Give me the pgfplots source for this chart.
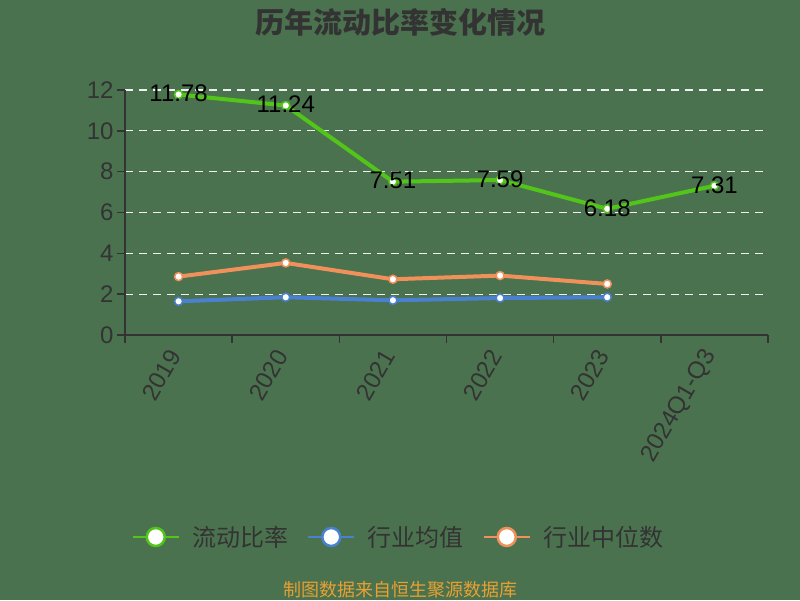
\documentclass[border=0pt]{standalone}
\usepackage{pgfplots}
\pgfplotsset{compat=1.18}
\usepackage{fontspec}
\setmainfont{Liberation Sans}
\newfontfamily\cjk{Noto Sans CJK SC}
\definecolor{bg}{RGB}{75,114,79}
\definecolor{grn}{RGB}{82,196,26}
\definecolor{blu}{RGB}{74,128,208}
\definecolor{org}{RGB}{240,144,90}
\definecolor{txt}{RGB}{51,51,51}
\definecolor{foot}{RGB}{232,160,50}
\begin{document}
\begin{tikzpicture}[x=1pt,y=1pt]
\fill[bg] (0,0) rectangle (800,600);
\path[use as bounding box] (0,0) rectangle (800,600);
\node[font=\cjk\bfseries\fontsize{29}{32}\selectfont, text=txt] at (400,578) {历年流动比率变化情况};
\node[font=\cjk\fontsize{18}{20}\selectfont, text=foot] at (400,10) {制图数据来自恒生聚源数据库};
\begin{axis}[
  at={(125pt,265pt)}, anchor=south west,
  scale only axis, width=643pt, height=245pt,
  xmin=-0.5, xmax=5.5, ymin=0, ymax=12,
  clip=false,
  axis x line*=bottom, axis y line*=left,
  axis line style={draw=txt, line width=1.5pt, -},
  xtick={0,1,2,3,4,5},
  xticklabels={2019,2020,2021,2022,2023,2024Q1-Q3},
  xtick style={draw=none},
  extra x ticks={-0.5,0.5,1.5,2.5,3.5,4.5,5.5},
  extra x tick labels={},
  extra x tick style={xtick style={draw=txt, line width=1.5pt}, major tick length=8pt, tick align=outside, grid=none},
  xticklabel style={rotate=60, anchor=east, xshift=-6pt, yshift=-1pt, font=\fontsize{24}{26}\selectfont, text=txt},
  ytick={0,2,4,6,8,10,12},
  ytick style={draw=txt, line width=1.5pt},
  major tick length=8pt, tick align=outside,
  yticklabel style={font=\fontsize{24}{26}\selectfont, text=txt},
  /pgf/number format/assume math mode=true,
  ymajorgrids,
  grid style={draw=white!88!gray, line width=1.2pt, dash pattern=on 8pt off 6pt},
  legend columns=3,
  legend style={at={(0.4250,-0.8245)}, anchor=center, draw=none, fill=none,
    font=\cjk\fontsize{24}{26}\selectfont, text=txt,
    /tikz/every odd column/.append style={column sep=10pt},
    /tikz/every even column/.append style={column sep=17pt}},
  legend cell align=left,
]
\addplot[grn, line width=4pt, mark=*, mark size=4pt, mark options={fill=white, draw=grn, line width=1.5pt},
  point meta=explicit symbolic, nodes near coords,
  nodes near coords style={anchor=center, yshift=1pt, text=black, font=\fontsize{24}{26}\selectfont},
  legend image code/.code={\draw[grn,line width=2.5pt](0pt,0pt)--(46pt,0pt); \draw[grn,line width=2.5pt,fill=white](23pt,0pt) circle (9pt);}]
  coordinates {(0,11.78)[11.78] (1,11.24)[11.24] (2,7.51)[7.51] (3,7.59)[7.59] (4,6.18)[6.18] (5,7.31)[7.31]};
\addlegendentry{流动比率}
\addplot[blu, line width=4pt, mark=*, mark size=4pt, mark options={fill=white, draw=blu, line width=1.5pt},
  legend image code/.code={\draw[blu,line width=2.5pt](0pt,0pt)--(46pt,0pt); \draw[blu,line width=2.5pt,fill=white](23pt,0pt) circle (9pt);}]
  coordinates {(0,1.65) (1,1.85) (2,1.70) (3,1.81) (4,1.85)};
\addlegendentry{行业均值}
\addplot[org, line width=4pt, mark=*, mark size=4pt, mark options={fill=white, draw=org, line width=1.5pt},
  legend image code/.code={\draw[org,line width=2.5pt](0pt,0pt)--(46pt,0pt); \draw[org,line width=2.5pt,fill=white](23pt,0pt) circle (9pt);}]
  coordinates {(0,2.86) (1,3.53) (2,2.73) (3,2.91) (4,2.50)};
\addlegendentry{行业中位数}
\end{axis}
\end{tikzpicture}
\end{document}
